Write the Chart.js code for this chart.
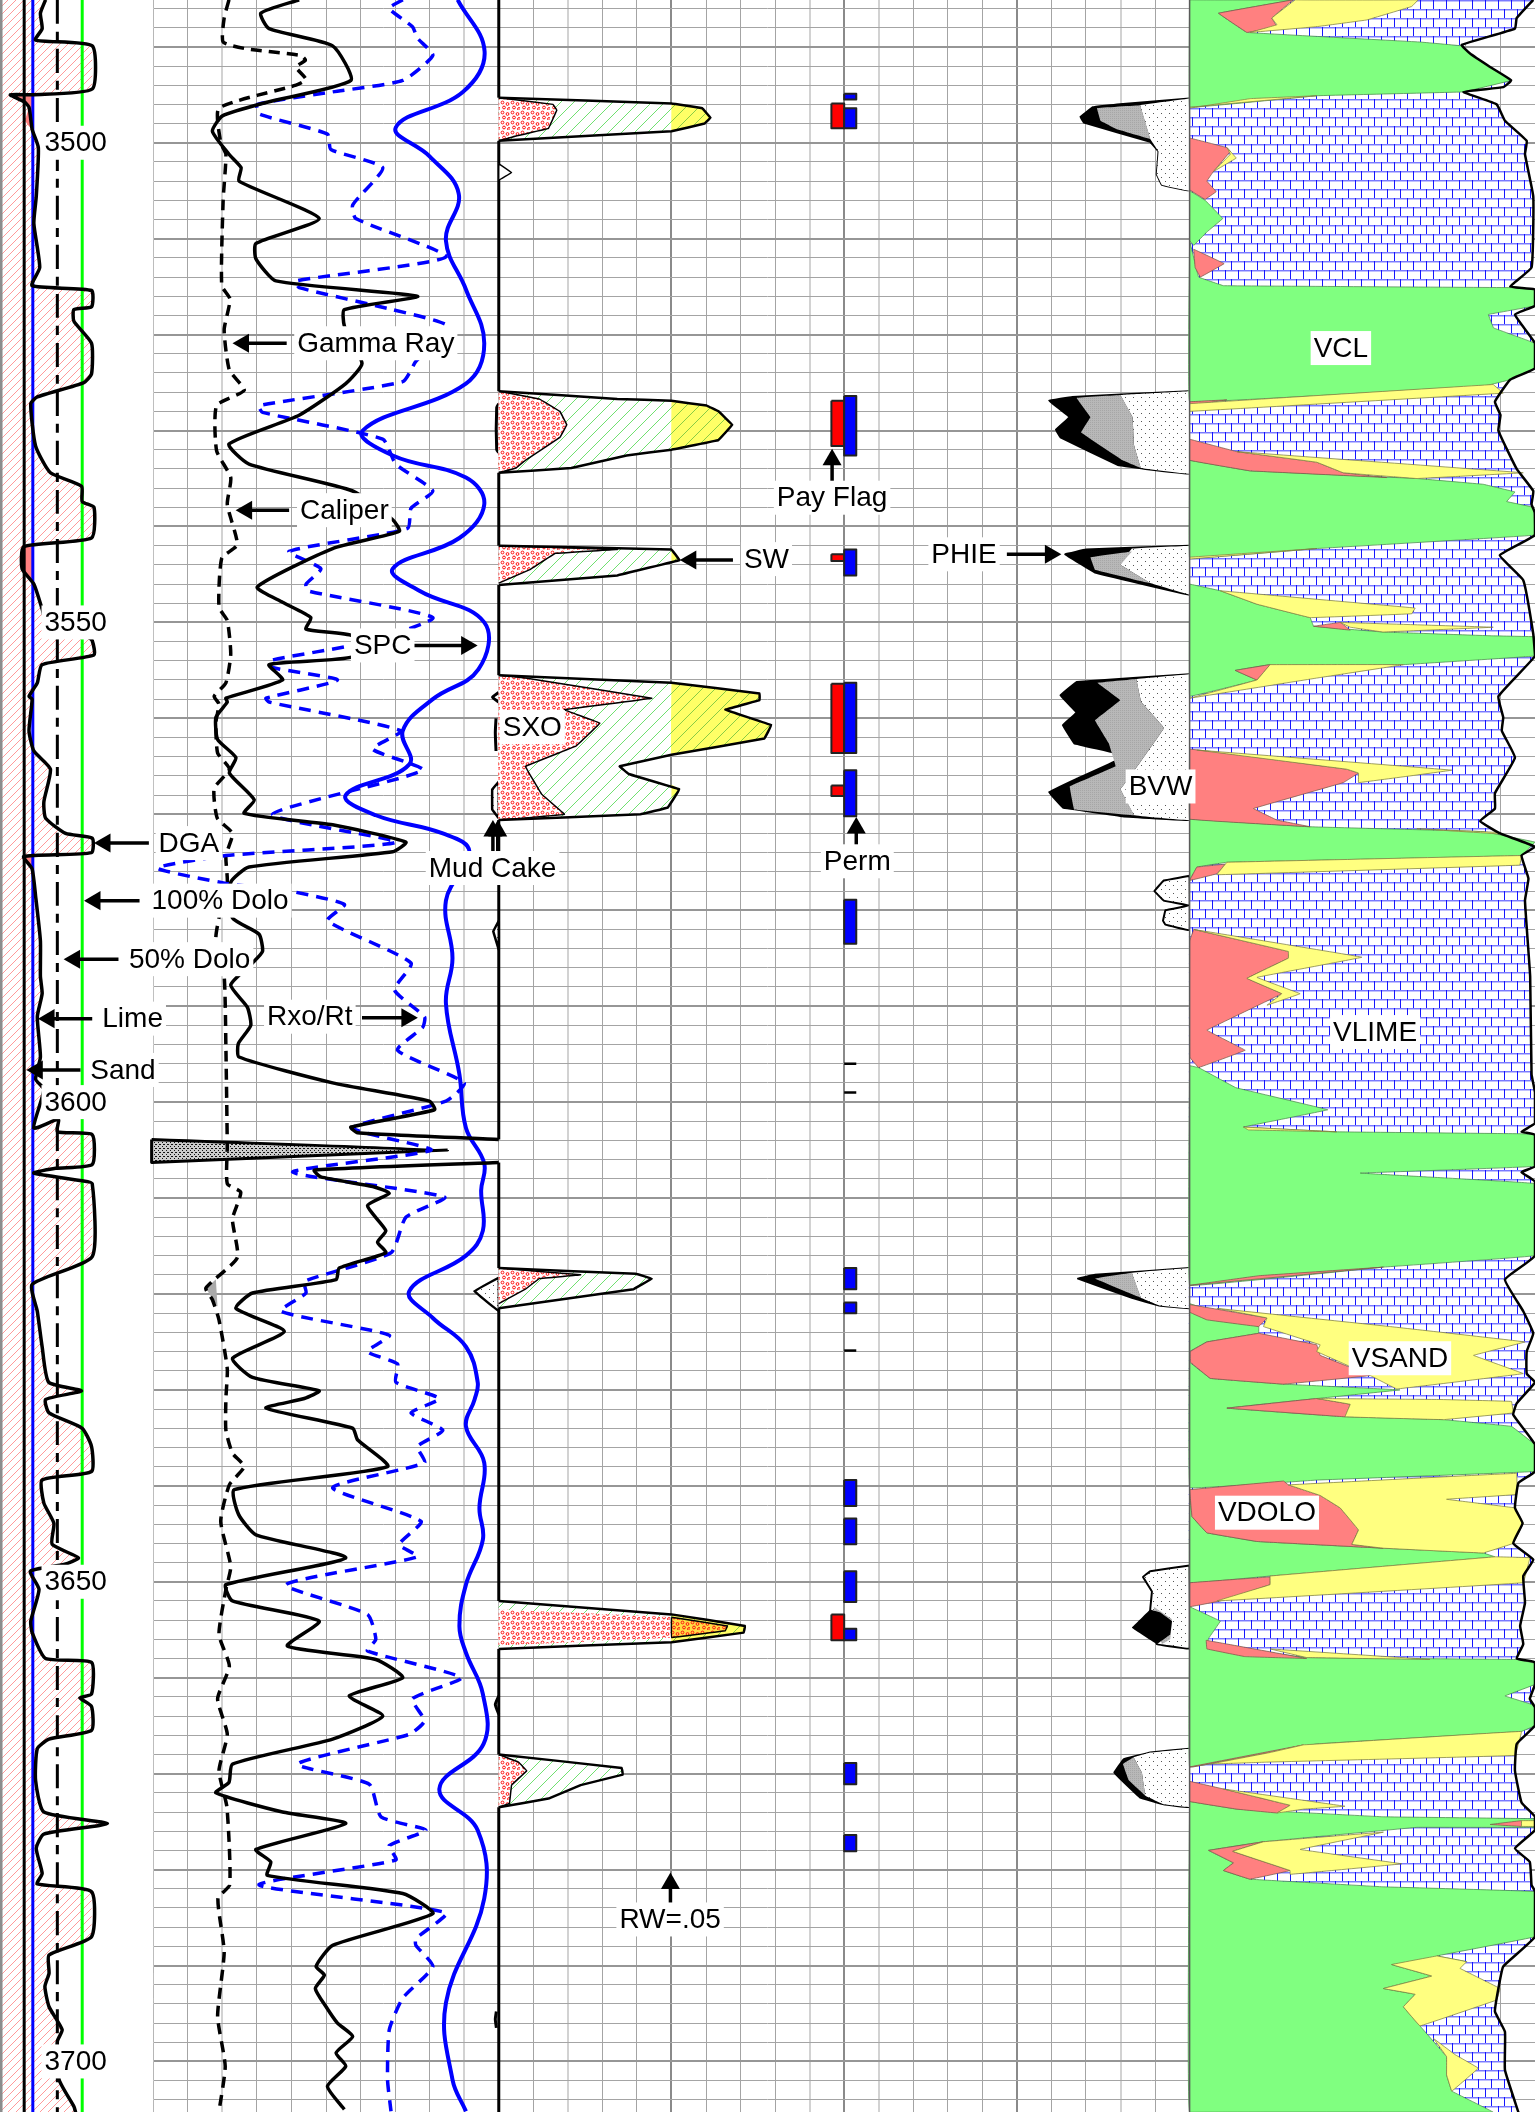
<!DOCTYPE html>
<html>
<head>
<meta charset="utf-8">
<title>Well log</title>
<script src="https://cdn.jsdelivr.net/npm/chart.js@4/dist/chart.umd.js"></script>
<style>
html, body { margin: 0; padding: 0; background: #fff; }
canvas { display: block; }
</style>
</head>
<body>
<canvas id="logChart" width="1535" height="2112"></canvas>
<script>
// all curves are [grid division, depth in feet]
// divisions: track 1 is -4.44..0, track 2 0..10, track 3 10..20, track 4 20..30, track 5 30..40
const depthTop = 3485.12, depthBottom = 3705.27;
const divLeft = -4.44, divRight = 40;
const depthLabels = [3500, 3550, 3600, 3650, 3700];

// --- TRACK 1 ---
const dga = [[-3.12,3485.1],[-3.27,3486.5],[-3.22,3488.1],[-3.41,3489.3],[-1.77,3489.9],[-1.77,3494.4],[-3.46,3495],[-4.14,3495],[-3.75,3495.7],[-3.6,3496.3],[-3.51,3498.6],[-3.33,3500.5],[-3.39,3505.6],[-3.46,3508.4],[-3.29,3513],[-3.51,3514.9],[-1.79,3515.4],[-1.79,3517.1],[-2.3,3517.4],[-2.3,3518.6],[-1.79,3520.9],[-1.79,3524.1],[-2.01,3525],[-3.36,3526.5],[-3.55,3527.2],[-3.41,3531.6],[-2.98,3534.4],[-2.08,3535.8],[-2.06,3537.4],[-1.72,3538],[-1.79,3541.2],[-3.75,3542.1],[-3.8,3544.4],[-3.46,3546],[-3.22,3548.6],[-3.1,3550],[-1.9,3551.5],[-1.77,3551.9],[-1.72,3553.4],[-3.22,3554.4],[-3.36,3556.3],[-3.6,3557.7],[-3.51,3558],[-3.6,3561.3],[-3.46,3563.4],[-2.98,3565.3],[-3.17,3568.7],[-3.12,3570.4],[-2.54,3572],[-1.77,3572.5],[-1.79,3574],[-3.75,3574.4],[-3.51,3575.7],[-3.41,3578.5],[-3.27,3583.2],[-3.27,3586.9],[-3.22,3588.7],[-3.36,3591.1],[-3.27,3595.3],[-3.41,3597.6],[-3.17,3598.7],[-3.46,3602.7],[-2.75,3601.8],[-2.78,3603.1],[-1.77,3603.4],[-1.77,3606.5],[-2.83,3606.9],[-3.46,3607.4],[-2.06,3608.2],[-1.77,3608.5],[-1.77,3616.1],[-3.51,3619],[-3.36,3621.8],[-3.22,3625.5],[-3.03,3629.2],[-2.08,3630.1],[-3.12,3631],[-3.02,3632.4],[-2.06,3634],[-1.79,3635.9],[-1.79,3638.5],[-3.22,3639.4],[-3.17,3641.8],[-2.88,3643.9],[-2.93,3646.1],[-2.17,3647.5],[-2.59,3648.2],[-3.56,3648.9],[-3.31,3650.8],[-3.55,3654.1],[-3.51,3655.3],[-3.12,3658],[-1.79,3658.4],[-1.79,3661.7],[-2.13,3662.1],[-1.79,3663],[-1.79,3665.5],[-3.02,3666.4],[-3.36,3667.4],[-3.41,3670.7],[-3.17,3674],[-1.33,3675.2],[-3.17,3676.3],[-3.39,3677.8],[-3.22,3680.4],[-3.36,3681.5],[-1.79,3682.3],[-1.79,3687],[-3.02,3688.9],[-3.02,3690.8],[-3.14,3692.2],[-3.02,3694.3],[-2.64,3696.7],[-2.78,3697.9],[-2.73,3701.9],[-2.3,3704.7],[-2.25,3705.3]];
const dgaPink1 = [[-4.1,3495],[-3.5,3495],[-3.5,3498.7],[-3.72,3497.7],[-3.6,3496.3]];
const dgaPink2 = [[-3.75,3542.1],[-3.5,3542],[-3.46,3546],[-3.8,3544.4]];
const dgaPink3 = [[-3.75,3574.4],[-3.5,3574.2],[-3.51,3575.6]];
const sandLine = -3.74, limeLine = -3.49, dolo50Line = -2.78, dolo100Line = -2.06;

// --- TRACK 2 ---
const gammaDashed = [[2.19,3485.1],[2.05,3487],[2.02,3489.5],[2.68,3490.2],[4.27,3490.9],[4.4,3491.4],[4.13,3492.1],[4.42,3493.4],[4.13,3494],[1.9,3496.4],[1.95,3500],[2.1,3501.2],[2.02,3506],[1.98,3514.9],[2.22,3516.3],[2.05,3519.5],[2.2,3523.7],[2.63,3525.8],[1.83,3527.4],[1.83,3532.1],[2.24,3534.9],[2.14,3537.7],[2.43,3541.9],[1.98,3543.3],[1.9,3548.4],[2.14,3549.8],[2.24,3553.3],[2.1,3556.3],[1.76,3557.7],[1.9,3558.5],[1.81,3560.4],[1.86,3563.6],[2.2,3565.3],[1.76,3567.3],[1.85,3570.4],[2.29,3572],[2.1,3574.3],[2.14,3577.1],[1.9,3580.8],[1.81,3582.9],[2.05,3586.9],[2.1,3594.3],[2.14,3604.6],[2.14,3608.5],[2.53,3609.4],[2.29,3612.2],[2.43,3616.2],[1.52,3619.4],[1.71,3620.6],[1.9,3622.7],[2.14,3627.8],[2.1,3630.9],[2.1,3634.2],[2.29,3636.6],[2.63,3638],[2.2,3639.9],[1.95,3643.7],[2.24,3648.4],[2.1,3650.8],[1.9,3655.5],[2.2,3658.8],[1.86,3662.2],[2.14,3665.9],[1.9,3669.7],[2.13,3673.5],[2.21,3681.6],[1.87,3683],[2.05,3688.6],[1.86,3695.3],[2.08,3700.5],[1.9,3705.2]];
const gammaUpper = [[4.22,3485.1],[3.11,3486.5],[3.35,3488.1],[5.19,3489.9],[5.72,3493.5],[3.26,3495.8],[2,3497.2],[1.71,3498.8],[2.19,3501.2],[2.54,3502.6],[2.48,3504],[4.8,3507.9],[2.97,3510.5],[2.97,3512.1],[3.55,3514.4],[7.65,3516],[5.53,3517.4],[5.53,3519.1],[6.04,3523],[5.57,3525.1],[4.22,3528.4],[2.19,3531.4],[2.77,3533.5],[5.77,3536.3],[6.93,3539.3],[7.12,3540.5],[5.19,3542.3],[3.01,3546.3],[3.74,3547.9],[4.56,3549.5],[4.42,3550.7],[5.77,3551.4],[5.77,3553.6],[3.35,3554.4],[3.74,3556],[2.1,3557.9],[2.14,3558.3],[1.81,3559.9],[1.86,3562.2],[2.39,3564.1],[2.2,3565.7],[2.92,3568.5],[2.63,3569.9],[5.19,3571.1],[7.31,3572.9],[6.93,3573.9],[2.77,3575.5],[2.24,3577.1],[2.29,3580.8],[3.06,3582.5],[3.16,3584.3],[2.87,3585.5],[2.24,3587.8],[2.72,3590.1],[2.82,3592],[2.46,3593.9],[2.48,3595.3],[5.19,3598],[7.99,3599.9],[8.14,3600.8],[5.72,3602.6],[5.91,3603.2],[10,3603.9]];
const gammaLower = [[10,3606.3],[4.66,3607.1],[4.85,3607.8],[6.35,3608.8],[6.83,3609.5],[6.2,3610.8],[6.73,3613.4],[6.49,3614.6],[6.73,3615.7],[5.38,3617.3],[5.29,3618.5],[2.87,3619.9],[2.39,3621.5],[3.79,3623.9],[2.29,3626.7],[2.87,3628.7],[4.8,3630.1],[4.37,3630.9],[3.26,3631.9],[5.77,3634],[5.91,3635.2],[6.78,3638],[2.34,3640.4],[2.47,3643],[2.97,3645.1],[5.57,3647.5],[2.1,3650.3],[2.29,3652],[4.8,3654.1],[3.88,3656.7],[6.44,3658.1],[7.22,3660],[5.67,3661.9],[6.64,3664],[5.19,3666.4],[2.29,3669],[2.19,3670.9],[1.81,3672],[3.74,3674],[5.57,3675.2],[2.97,3677.9],[3.4,3679.2],[3.3,3680.6],[7.22,3682.5],[8.09,3684.6],[5.19,3687.9],[4.71,3690.1],[4.95,3691],[4.69,3692.4],[5,3694.3],[5.33,3696],[5.77,3697.4],[5.29,3699.1],[5.57,3700.5],[5.04,3702.6],[5.53,3705]];
const rxoRt = [[7.22,3485.1],[6.83,3486],[7.5,3487.9],[7.65,3489.1],[8.09,3490.9],[7.22,3493.5],[5.19,3494.7],[3.01,3496],[3.06,3497],[5.04,3499.1],[5.14,3500.7],[6.64,3502.6],[5.77,3506.5],[5.86,3507.9],[8.47,3511.9],[4.13,3514.4],[4.22,3515.1],[6.93,3517.4],[8.57,3519.2],[7.6,3522.8],[7.22,3524.9],[3.06,3527.4],[3.16,3528.1],[6.64,3530.9],[7.02,3533.5],[8.09,3536.3],[7.46,3538.1],[7.36,3540.2],[3.93,3542.6],[4.85,3544.4],[4.42,3546],[4.46,3546.7],[8.09,3549.5],[6.15,3552.1],[3.35,3554],[3.45,3554.7],[5.33,3556],[3.26,3557.9],[3.35,3558.3],[7.17,3561.3],[6.35,3563.2],[7.8,3565.4],[3.45,3570],[7.02,3572.9],[2.1,3574.3],[0.12,3575.6],[2.1,3577.2],[3.93,3578],[5.53,3579.4],[5.04,3581.1],[7.46,3585.5],[6.98,3588.3],[7.85,3591.1],[7.8,3592.2],[7.07,3594.6],[9,3598],[8.47,3599.9],[5.77,3602.7],[8.04,3605],[4.03,3607.3],[8.43,3609.9],[7.31,3612],[6.88,3615.7],[4.37,3618.7],[4.42,3619.9],[3.69,3621.8],[6.83,3624.3],[6.2,3626],[7.07,3627.3],[7.02,3629.2],[8.28,3630.9],[7.46,3632.4],[8.38,3634.2],[7.65,3635.9],[7.85,3637.6],[5.19,3640.2],[7.75,3643.7],[7.12,3646.1],[7.65,3647.4],[3.84,3650.3],[6.2,3653.4],[6.44,3656],[6.2,3657.2],[8.91,3660],[7.5,3662.2],[7.85,3664.5],[7.41,3665.9],[4.17,3669],[6.25,3671.1],[6.59,3674.5],[7.89,3675.9],[6.83,3677.5],[7.02,3679],[3.06,3681.6],[8.47,3684.5],[7.6,3687.2],[7.6,3687.9],[8.09,3690.1],[7.22,3693.4],[6.83,3696.7],[6.78,3701.9],[6.88,3705.2]];
const spc = [[8.81,3485.1],[9.59,3490.5],[8.96,3494.7],[7.02,3498.4],[7.99,3501.4],[8.84,3505.3],[8.47,3510.2],[9.05,3515.3],[9.58,3520.9],[9.05,3525.1],[6.06,3530],[6.93,3532.6],[9.05,3534.9],[9.58,3537.7],[8.86,3541.2],[6.93,3544.4],[7.7,3546.7],[9.58,3550],[9.41,3554.9],[8.09,3558],[7.22,3561.3],[7.41,3564.8],[5.57,3568],[6.44,3570.1],[8.38,3572],[9.15,3573.9],[8.47,3579],[8.66,3585],[8.47,3589.7],[8.86,3597.1],[9.05,3602.7],[9.58,3606.4],[9.49,3609.2],[9.54,3613.4],[9.05,3616],[7.41,3619.7],[8.09,3622.5],[9.05,3625.5],[9.39,3629.2],[9.3,3631],[9.05,3633.8],[9.58,3637.6],[9.44,3642.3],[9.54,3645.6],[9.05,3650.3],[8.86,3654.6],[9.05,3657.4],[9.54,3661.7],[9.56,3666.9],[8.28,3671.6],[9.39,3675.9],[9.58,3683],[8.47,3693.9],[8.66,3701.9],[9.05,3705.2]];
const washout = [[-0.05,3603.9],[8.52,3605],[-0.05,3606.3]];
const gammaGray = [[1.52,3619.4],[1.81,3618.5],[1.86,3621.3]];

// --- TRACK 3: border, mud cake, saturation zones ---
const borderRuns = [[3485.1,3495.3],[3499.8,3525.9],[3534.4,3542],[3546.1,3555.5],[3570.6,3603.9],[3606.3,3617.3],[3621.5,3652],[3657,3668],[3673.5,3705.3]];
const mudBumps = [[[10,3527.2],[9.94,3527.6],[9.94,3532],[10,3532.3]],[[10,3557.3],[9.82,3557.8],[10,3558.3]],[[9.92,3560],[9.9,3561.5],[9.92,3563.4]],[[10,3661.9],[9.9,3662.8],[10,3663.8]],[[9.93,3694.8],[9.9,3695.6],[9.93,3696.5]]];
const mudStipple1 = [[10,3566.6],[9.81,3567.4],[9.81,3569.5],[10,3570.4]];
const mudStipple2 = [[10,3618.3],[9.29,3619.7],[10,3621.8]];
const mudStipple3 = [[10,3581.1],[9.84,3582.2],[10,3584.1]];
const swBlip = [[10,3502.2],[10.37,3503.1],[10,3503.9]];

const swA = [[10,3495.3],[15,3495.9],[15.89,3496.4],[16.13,3497.4],[15.96,3498],[15,3498.8],[10,3499.8]];
const yelA = [[15,3495.9],[15.89,3496.4],[16.13,3497.4],[15.96,3498],[15,3498.8]];
const sxoA = [[10,3495.3],[11.57,3496],[11.68,3496.6],[11.44,3498.5],[10.5,3499.3],[10,3499.8]];
const swB = [[10,3525.9],[13.43,3526.7],[15,3526.9],[16.02,3527.4],[16.36,3528],[16.76,3529.4],[16.36,3531],[15,3532],[13.7,3532.6],[12.1,3533.9],[10,3534.4]];
const yelB = [[15,3526.9],[16.02,3527.4],[16.36,3528],[16.76,3529.4],[16.36,3531],[15,3532]];
const sxoB = [[10,3525.9],[11.17,3526.7],[11.77,3528],[11.97,3529.4],[11.77,3530.7],[10.77,3533.1],[10.5,3533.9],[10,3534.4]];
const swC = [[10,3542],[15,3542.4],[15.23,3543.5],[13.43,3545.1],[10,3546.1]];
const yelC = [[15,3542.4],[15.23,3543.5],[15,3543.7]];
const sxoC = [[10,3542],[13.43,3542.4],[11.64,3542.8],[10.9,3544.5],[10,3545.9]];
const swD = [[10,3555.5],[15,3556.3],[17.55,3557.4],[17.55,3558.1],[16.56,3559.1],[17.89,3560.7],[17.69,3562.1],[15,3563.8],[13.5,3565],[13.76,3565.8],[15.23,3567.4],[14.89,3569.3],[14.1,3570],[10,3570.6]];
const yelD = [[15,3556.3],[17.55,3557.4],[17.55,3558.1],[16.56,3559.1],[17.89,3560.7],[17.69,3562.1],[15,3563.8]];
const yelD2 = [[15,3566.9],[15.23,3567.4],[15,3568.4]];
const sxoD = [[10,3555.5],[10.77,3555.8],[14.43,3557.9],[11.9,3559.1],[12.93,3560.5],[12.23,3562.9],[10.77,3565],[11.24,3567.9],[11.9,3570],[10,3570.6]];
const swE = [[10,3617.3],[13.96,3617.9],[14.43,3618.4],[13.9,3619.5],[10,3621.5]];
const sxoE = [[10,3617.3],[12.37,3618],[11.17,3618.4],[10.77,3619.5],[10,3621]];
const swF = [[10,3652],[15,3653.4],[17.13,3654.6],[17.09,3655.3],[15,3656.3],[10,3657]];
const yelF = [[15,3653.4],[17.13,3654.6],[17.09,3655.3],[15,3656.3]];
const sxoF = [[10,3652.9],[15,3653.7],[15,3655.8],[10,3656.6]];
const payF = [[15,3653.7],[16.62,3654.6],[16.56,3655.1],[15,3655.8]];
const swG = [[10,3668],[13.56,3669.4],[13.59,3670.1],[12.37,3671.2],[11.44,3672.6],[10,3673.5]];
const sxoG = [[10,3668],[10.57,3668.8],[10.81,3669.7],[10.37,3671.2],[10.31,3673.1],[10,3673.5]];

// --- TRACK 4: pay flag and perm bars [top, bottom] ---
const permEdge = 20.35, flagEdge = 19.63, barBase = 20;
const permBars = [[3494.9,3495.5],[3496.4,3498.5],[3526.4,3532.6],[3542.4,3545.1],[3556.3,3563.6],[3565.4,3570.2],[3578.9,3583.5],[3617.3,3619.5],[3620.9,3622],[3639.4,3642.1],[3643.4,3646.1],[3648.9,3652.1],[3654.9,3656.1],[3668.9,3671.1],[3676.4,3678.1]];
const permTicks = [3596, 3599, 3625.9];
const flagBars = [[3495.9,3498.5],[3526.9,3531.6],[3542.9,3543.6],[3556.4,3563.6],[3567,3568.1],[3653.4,3656.1]];

// --- TRACK 4: porosity lobes (outer PHIE, gray BVW, dotted rest) ---
const phieA = [[30,3495.4],[27.9,3496],[27.2,3496.3],[26.84,3497.3],[26.94,3497.9],[28.86,3499.9],[29.1,3500.9],[29.05,3503.3],[29.2,3504.4],[30,3505]];
const grayA = [[28.57,3496.1],[27.32,3496.4],[27.42,3497.7],[27.9,3498.6],[28.86,3499.6]];
const dotA = [[30,3495.4],[28.57,3496.1],[28.86,3499.6],[29.1,3500.9],[29.05,3503.3],[29.2,3504.4],[30,3505]];
const phieB = [[30,3525.9],[26.6,3526.5],[25.93,3526.9],[26.33,3528],[26.53,3528.6],[26.13,3529.9],[26.26,3530.7],[27.93,3533.6],[28.72,3534],[30,3534.5]];
const grayB = [[28,3526.3],[26.73,3526.6],[27.13,3528.6],[26.86,3530.2],[28.06,3533.1],[28.59,3533.9],[28.39,3531.5],[28.35,3528.6]];
const dotB = [[30,3525.9],[28,3526.3],[28.35,3528.6],[28.39,3531.5],[28.59,3533.9],[30,3534.5]];
const phieC = [[30,3542],[27,3542.4],[26.4,3542.9],[27.26,3544.8],[30,3547.1]];
const grayC = [[28.33,3542.6],[27.13,3543.2],[27.26,3544.5],[28.6,3545.7],[28.86,3545.9],[28,3544]];
const dotC = [[30,3542],[28.33,3542.3],[28,3544],[28.86,3545.9],[30,3547.1]];
const phieD = [[30,3555.4],[26.73,3556.2],[26.26,3557.6],[26.73,3559.4],[26.33,3560.7],[26.66,3562.6],[28.19,3563.9],[26.73,3566.3],[25.93,3567.7],[26.33,3569.3],[28.06,3570.2],[30,3570.6]];
const grayD = [[28.46,3555.9],[27.33,3556.3],[27.99,3558.1],[27.26,3560.2],[27.66,3562.6],[27.86,3565],[26.53,3567.1],[26.66,3569.5],[28.39,3570.1],[28,3567.4],[28.33,3565.8],[29.26,3561],[28.6,3558.3]];
const dotD = [[30,3555.4],[28.46,3555.9],[28.6,3558.3],[29.26,3561],[28.33,3565.8],[28,3567.4],[28.39,3570.1],[30,3570.6]];
const dotE = [[30,3576.4],[29.25,3576.9],[28.98,3578],[29.25,3579],[30,3579.5],[29.3,3580],[29.23,3581.1],[29.3,3581.5],[30,3582.1]];
const phieF = [[30,3617.3],[27.26,3618],[26.77,3618.4],[28.33,3620.4],[29.12,3621.2],[30,3621.5]];
const grayF = [[28.33,3617.8],[27.26,3618.4],[28.59,3620.4]];
const dotF = [[30,3617.3],[28.33,3617.8],[28.59,3620.4],[29.12,3621.2],[30,3621.5]];
const dotG = [[30,3648.3],[28.86,3648.9],[28.65,3649.5],[28.91,3651],[28.86,3652.9],[29.05,3656.5],[30,3657]];
const grayG = [[28.96,3652.6],[29.49,3653.9],[29.44,3656],[29.2,3656.5]];
const blackG = [[28.86,3652.9],[28.33,3654.8],[29.05,3656.5],[29.44,3655.5],[29.49,3654.1],[29.15,3653.2]];
const phieH = [[30,3667.4],[28.86,3667.8],[28.09,3668.5],[27.82,3669.9],[28.04,3670.7],[28.57,3672.5],[29.25,3673.2],[30,3673.5]];
const grayH = [[28.38,3668.3],[28.07,3669],[28.24,3670.7],[28.72,3672.3],[28.62,3669.9]];
const dotH = [[30,3667.4],[28.86,3667.8],[28.38,3668.3],[28.62,3669.9],[28.72,3672.3],[29.25,3673.2],[30,3673.5]];

// --- TRACK 5: lithology ---
const lithEdge = [[39.95,3485.1],[39.47,3487],[39.42,3488.1],[37.88,3489.8],[38.12,3490.7],[38.7,3492.1],[39.31,3493.5],[39.08,3494.2],[37.93,3494.7],[38.89,3496],[39.13,3497.7],[39.76,3499.8],[39.71,3501.2],[39.95,3505.6],[39.9,3513],[39.28,3515],[40,3515.3],[40,3517],[39.42,3517.9],[40,3520.9],[40,3523.5],[39.28,3524.7],[38.84,3527],[39,3528.4],[38.94,3530],[39.47,3534],[39.95,3536.3],[39.9,3537.7],[40,3538.6],[40,3540.9],[38.98,3543],[39.66,3545.6],[39.95,3551.2],[40,3553.5],[38.94,3557.7],[39.08,3559.9],[39.04,3561.3],[39.42,3564.1],[38.84,3567.8],[38.84,3569.4],[38.41,3570.7],[38.99,3572],[40,3573.4],[39.61,3574.3],[39.81,3576.7],[39.71,3579],[39.86,3586.9],[39.9,3597.1],[40,3599],[40,3602.2],[39.61,3603.1],[40,3603.4],[40,3606.7],[39.61,3607.3],[40,3608.3],[40,3616],[39.13,3618.5],[39.66,3621.8],[39.95,3624.1],[39.76,3626],[39.76,3628.3],[40,3629.2],[39.47,3631.4],[39.37,3632.6],[40,3635.7],[40,3638.5],[39.52,3639.7],[39.42,3642.3],[39.64,3643.9],[39.37,3646],[39.95,3647.7],[39.66,3649.4],[39.71,3652.2],[39.57,3654.6],[39.66,3656.5],[39.47,3658],[40,3658.4],[40,3660.7],[39.85,3662.2],[40,3663.1],[40,3665],[39.47,3666.9],[39.42,3669.7],[39.61,3673],[40,3674.5],[40,3675.9],[39.42,3677.8],[39.85,3679.2],[39.9,3681.6],[40,3682.3],[40,3687],[39.08,3690.1],[38.94,3692.4],[38.84,3694.8],[39.13,3696.9],[39.13,3700.9],[39.52,3705.3]];

const vclZones = [
  [[30,3485.1],[33,3485.1],[30.84,3486.5],[31.66,3488.5],[36.67,3489.5],[37.88,3489.9],[38.12,3490.7],[38.7,3492.1],[39.31,3493.5],[37.93,3494.7],[33.68,3495.1],[30,3496.3]],
  [[30,3505],[30.45,3506],[30.96,3507.9],[30.5,3509.3],[30.12,3510.7],[30,3510.2]],
  [[30,3510.2],[30.26,3514],[30.98,3514.9],[39.28,3515.1],[40,3515.3],[40,3517],[38.65,3517.9],[38.8,3519.3],[40,3520.9],[40,3523.5],[39.28,3524.7],[38.6,3525.3],[30,3527]],
  [[30,3533.1],[31.75,3534.2],[36.58,3535],[38.5,3535.6],[39.42,3536.4],[39.18,3537.4],[39.95,3538],[40,3540.9],[33.68,3542.3],[30,3543.3]],
  [[30,3546],[30.89,3546.7],[31.95,3548.1],[33.49,3549.5],[33.59,3550.4],[35.6,3551],[38.79,3551.4],[40,3551.5],[40,3553.5],[36.19,3554.4],[32.33,3554.4],[31.32,3555],[31.95,3556],[30,3557.7]],
  [[30,3570.5],[33.49,3571.3],[38.5,3571.8],[40,3572.9],[39.61,3574.3],[31.08,3575],[30.21,3575.5],[30,3576.9]],
  [[30,3596.2],[30.26,3596.4],[31.34,3598.5],[34,3600.8],[31.56,3602.6],[34.26,3603.1],[39.61,3603.3],[40,3603.4],[40,3606.7],[34.94,3607.4],[36.87,3607.8],[40,3608.5],[40,3616],[35.61,3617.2],[30,3619.1]],
  [[30,3621],[32,3623.4],[32,3624.1],[30.5,3625],[30,3626],[30,3627.1],[30.6,3628.8],[32.72,3629.4],[36.09,3630],[33.68,3630.9],[31.08,3631.9],[34.5,3632.8],[37.35,3633.1],[39.32,3633.8],[40,3635.7],[40,3638.5],[33.68,3639.4],[30,3640.2]],
  [[30,3640.4],[30.07,3643.2],[30.5,3644.9],[31.95,3645.8],[35.61,3646.5],[38.5,3647],[38.84,3647.4],[32.33,3649.4],[30,3650.1]],
  [[30,3652.6],[30.89,3654.1],[30.55,3655.9],[30.5,3656.5],[33.39,3657.9],[39.47,3658.1],[40,3658.5],[40,3660.7],[39.13,3661.9],[40,3662.9],[40,3665],[39.61,3665.6],[33.68,3666.9],[30,3669.3]],
  [[30,3672.9],[31.37,3673.7],[35.61,3674.5],[40,3674.7],[40,3675.6],[36.58,3675.6],[32.14,3677.1],[30.55,3678],[31.27,3679.3],[30.98,3680.1],[31.75,3681],[35.61,3681.8],[40,3682.3],[40,3687],[37.16,3689],[38.02,3689.6],[35.85,3689.9],[37.01,3691.1],[35.61,3692.4],[36.53,3693],[36.19,3694.3],[36.67,3696.3],[37.44,3699.5],[37.44,3701.4],[37.59,3703.1],[38.79,3705.3],[30,3705.3]]
];
const vdoloZones = [
  [[33,3485.1],[30.84,3486.5],[31.66,3488.5],[32.53,3487.9],[32.38,3487]],
  [[30,3499.5],[31.08,3500.5],[31.18,3500.9],[30.69,3503],[30.5,3504],[30.77,3505.1],[30.45,3505.9],[30,3504.9]],
  [[30.12,3511.1],[31,3512.6],[30.31,3514],[30.16,3513]],
  [[30,3527],[31.08,3526.8],[30,3527.4]],
  [[30,3530.9],[31.37,3532.2],[33.68,3533.3],[34.45,3534.4],[35.71,3534.9],[31.75,3534.2],[30,3533.1]],
  [[33.59,3550.4],[34.36,3550],[34.65,3550.8]],
  [[31.32,3555],[32.33,3554.4],[31.95,3556]],
  [[30,3563.2],[30.98,3563.6],[34.55,3565.3],[34.89,3565.7],[34.45,3566.7],[31.85,3569.4],[32.53,3570.6],[33.49,3571.3],[30,3570.5]],
  [[30.21,3575.5],[31.03,3575.2],[30.79,3576.2],[30,3576.9]],
  [[30.12,3582],[32.86,3584.3],[32.86,3585],[31.66,3587.1],[32.67,3588.7],[30.5,3592.5],[31.61,3594.6],[30.26,3596.4],[30,3595.3],[30,3583.2]],
  [[35.61,3617.2],[30,3619.1],[32,3618.1]],
  [[30,3621.1],[32.24,3622.5],[32,3623.4],[30.5,3622.7],[30,3621.9]],
  [[32,3624.1],[33.68,3625.3],[33.78,3626.4],[35.23,3628.5],[32.72,3629.4],[30.6,3628.8],[30.02,3627.1],[30.02,3626],[30.5,3625]],
  [[31.08,3631.9],[33.68,3630.9],[34.65,3631.5],[34.5,3632.8]],
  [[30,3640.4],[32.72,3639.5],[32.86,3639.9],[33.78,3641],[34.36,3642.3],[34.89,3644.6],[34.7,3646.1],[35.61,3646.5],[31.95,3645.8],[30.5,3644.9],[30.07,3643.2]],
  [[30,3650.1],[32.33,3649.5],[32.33,3650.3],[30.89,3652],[30,3652.6]],
  [[30.48,3656.1],[33.39,3658],[31.6,3657.8],[30.5,3657]],
  [[30,3669.3],[33.3,3667],[32.33,3667.8],[30.1,3669.3]],
  [[30,3670.8],[30.98,3671.6],[32.91,3673.3],[32.53,3674.1],[31.37,3673.7],[30,3672.9]],
  [[30.55,3678],[32.14,3677.1],[31.25,3678.1],[32.91,3680.1],[31.75,3681],[30.98,3680.1],[31.27,3679.3]],
  [[38.7,3675.3],[39.61,3674.9],[39.61,3675.5]]
];
const vsandZones = [
  [[36.62,3485.1],[33.06,3485.1],[32.38,3487],[32.53,3487.7],[31.75,3488.5],[33.68,3487.9],[35.13,3487.2],[36.43,3485.8]],
  [[33.68,3495.1],[30,3496.3],[30,3496.4],[31.76,3495.4]],
  [[31.08,3500.5],[31.35,3501.6],[30.69,3503],[31.18,3501.2]],
  [[38.79,3525.2],[30,3527.2],[30,3528],[39.08,3526.1]],
  [[31.37,3532.2],[39.66,3534.4],[36.58,3535],[34.45,3534.4],[33.68,3533.3]],
  [[33.68,3542.3],[30,3543.2],[30,3543.4]],
  [[30.89,3546.7],[36.53,3548.5],[36.43,3549.1],[33.49,3549.5],[31.95,3548.1]],
  [[34.36,3550],[38.79,3550.5],[35.6,3551],[34.65,3550.5]],
  [[32.33,3554.4],[36.19,3554.4],[33.68,3555.8],[30,3557.9],[31.95,3556]],
  [[30.21,3563.3],[37.59,3565.4],[34.89,3566.7],[34.89,3565.7],[34.55,3565.3]],
  [[36.58,3571.5],[38.99,3571.9],[38.99,3572.05]],
  [[31.08,3575],[39.61,3574.3],[39.56,3575.3],[30.79,3576.3]],
  [[30.12,3582],[34.99,3584.9],[31.95,3587],[33.2,3588.7],[32.24,3589.9],[32.67,3588.7],[31.66,3587.1],[32.86,3585],[32.86,3584.3]],
  [[31.56,3602.6],[34.26,3603.1],[31.7,3602.9]],
  [[30.79,3621.5],[35.81,3623.4],[39.71,3625],[38.22,3626.4],[39.66,3628.3],[36,3629.9],[35.23,3628.5],[33.68,3626],[33.78,3625.3],[32.14,3623.4],[32.24,3622.5]],
  [[33.68,3630.9],[37.25,3631],[39.32,3631.2],[39.37,3632.4],[37.35,3633.1],[34.5,3632.8],[34.65,3631.5]],
  [[32.86,3639.9],[39.47,3638.7],[39.47,3640.9],[37.44,3641.4],[39.42,3642.3],[39.66,3643.9],[39.37,3646],[38.5,3647],[35.61,3646.5],[34.7,3646.1],[34.89,3644.6],[34.36,3642.3],[33.78,3641]],
  [[32.33,3649.4],[38.84,3647.4],[39.85,3647.5],[39.66,3650.1],[30.79,3652],[32.33,3650.3]],
  [[32.33,3657],[36.96,3658.1],[33.39,3657.9]],
  [[33.3,3667],[39.61,3665.6],[39.42,3668.1],[32.24,3668.8],[30.6,3669],[32.33,3667.8]],
  [[30.98,3671.6],[34.5,3673.4],[33.3,3673.7],[32.53,3674.1],[32.91,3673.3]],
  [[39.61,3674.9],[40,3674.9],[40,3675.5],[39.61,3675.5]],
  [[32.14,3677.1],[35.61,3676.1],[33.2,3677.9],[36.14,3679.4],[32.91,3680.5],[32.91,3680.1],[31.25,3678.1]],
  [[37.16,3689],[38.02,3689.6],[37.83,3690.3],[38.99,3692.4],[38.89,3693.6],[36.67,3696.3],[36.19,3694.3],[36.53,3693],[35.61,3692.4],[37.01,3691.1],[35.85,3689.9]],
  [[37.06,3697.6],[37.69,3699.3],[38.36,3700.7],[37.59,3703.1],[37.44,3701.4],[37.44,3699.5]]
];

// --- LABELS AND ARROWS ---
const labelTexts = ['Gamma Ray','Caliper','SPC','DGA','100% Dolo','50% Dolo','Lime','Sand','Rxo/Rt','Mud Cake','Pay Flag','SW','PHIE','SXO','BVW','Perm','RW=.05','VCL','VLIME','VSAND','VDOLO'];
const labelDivs = [6.44,5.53,6.64,1.03,1.93,1.05,-0.6,-0.88,4.53,9.82,19.65,17.75,23.47,10.97,29.16,20.38,14.96,34.38,35.37,36.09,32.24];
const labelDepths = [3520.9,3538.3,3552.4,3573,3579,3585.1,3591.3,3596.65,3591.1,3575.6,3537,3543.4,3542.9,3560.9,3567.1,3574.9,3685.2,3521.4,3592.7,3626.7,3642.8];
const depthLabelDiv = -2.25;
// tail div, tail depth, tip div, tip depth
const arrows = [[3.86,3520.9,2.32,3520.9],[3.93,3538.3,2.41,3538.3],[7.5,3552.4,9.36,3552.4],[-0.13,3573,-1.69,3573],[-0.4,3579,-1.98,3579],[-1.01,3585.1,-2.57,3585.1],[-1.77,3591.3,-3.31,3591.3],[-2.11,3596.65,-3.65,3596.65],[6.04,3591.2,7.63,3591.2],[9.83,3574.1,9.83,3570.7],[9.97,3574.1,9.97,3570.7],[19.65,3535.4,19.65,3532],[16.78,3543.5,15.27,3543.5],[24.71,3542.9,26.26,3542.9],[20.35,3573.5,20.35,3570.4],[14.97,3683.6,14.97,3680.4]];

// --- GRID ---
const depthGrid = [];
for (let d = 3486; d <= 3704; d += 2) depthGrid.push(d);
const divGrid = [];
for (let v = 0; v <= 40; v++) divGrid.push(v);
const divDark = [0, 15, 20, 25];
const divLight = [2, 9, 12, 19, 21, 28];

// --- PATTERNS ---
function tile(w, h, draw) {
    const c = document.createElement('canvas');
    c.width = w; c.height = h;
    const t = c.getContext('2d');
    draw(t, w, h);
    return t.createPattern(c, 'repeat');
}
function diagonals(t, s, bg, color, lw) {
    t.fillStyle = bg; t.fillRect(0, 0, s, s);
    t.strokeStyle = color; t.lineWidth = lw;
    t.beginPath();
    t.moveTo(-2, 2); t.lineTo(2, -2);
    t.moveTo(0, s); t.lineTo(s, 0);
    t.moveTo(s - 2, s + 2); t.lineTo(s + 2, s - 2);
    t.stroke();
}
const hatchRed = tile(8, 8, (t, s) => diagonals(t, s, '#fff', '#ff9a9a', 1));
const hatchGreen = tile(13, 13, (t, s) => diagonals(t, s, '#fff', '#70e070', 1));
const hatchYellow = tile(13, 13, (t, s) => diagonals(t, s, '#ffff66', '#88cc44', 1));
function rings(t, bg) {
    t.fillStyle = bg; t.fillRect(0, 0, 10, 10);
    t.strokeStyle = '#ff1010'; t.lineWidth = 1;
    [[2.5,2.5],[7.5,4],[4,7.5],[9,9]].forEach(p => { t.beginPath(); t.arc(p[0], p[1], 1.4, 0, 7); t.stroke(); });
}
const redDots = tile(10, 10, t => rings(t, '#fff'));
const redOnYellow = tile(10, 10, t => rings(t, '#ffdd44'));
const dotted = tile(8, 8, t => {
    t.fillStyle = '#fff'; t.fillRect(0, 0, 8, 8);
    t.fillStyle = '#555'; t.fillRect(1, 1, 1, 1); t.fillRect(5, 5, 1, 1);
});
const speckle = tile(4, 4, t => {
    t.fillStyle = '#ccc'; t.fillRect(0, 0, 4, 4);
    t.fillStyle = '#111'; t.fillRect(0, 0, 1, 1); t.fillRect(2, 2, 1, 1); t.fillRect(3, 0, 1, 1);
});
const grayFine = tile(2, 2, t => {
    t.fillStyle = '#b8b8b8'; t.fillRect(0, 0, 2, 2);
    t.fillStyle = '#a6a6a6'; t.fillRect(0, 0, 1, 1);
});
const brick = tile(26, 18, (t, w, h) => {
    t.fillStyle = '#fff'; t.fillRect(0, 0, w, h);
    t.fillStyle = '#c0c0ff'; t.fillRect(0, 0, w, 2); t.fillRect(0, 9, w, 2);
    t.fillStyle = '#7a7aff'; t.fillRect(0, 0, w, 1); t.fillRect(0, 9, w, 1);
    t.fillStyle = '#1515ff';
    t.fillRect(3, 0, 1, 9); t.fillRect(16, 0, 1, 9);
    t.fillRect(9, 9, 1, 9); t.fillRect(22, 9, 1, 9);
});

// --- DATASETS (painted in the order they are pushed) ---
const layers = [];
const toPoints = pts => pts.map(p => ({ x: p[0], y: p[1] }));
function curve(pts, color, width, extra) {
    layers.push(Object.assign({
        data: toPoints(pts), showLine: true, fill: false, borderColor: color, borderWidth: width,
        pointRadius: 0, tension: 0.18, borderJoinStyle: 'round', borderCapStyle: 'butt'
    }, extra || {}));
}
// shapes stay nearly straight so the closing edge does not bulge out of its track
function shape(pts, paint, edge, width, bend) {
    layers.push({
        data: toPoints(pts.concat([pts[0]])), showLine: true, fill: 'shape', backgroundColor: paint,
        borderColor: edge || paint, borderWidth: width === undefined ? 0 : width,
        pointRadius: 0, tension: bend === undefined ? 0.02 : bend, borderJoinStyle: 'round'
    });
}
const sides = v => [[v, depthTop], [v, depthBottom]];
const straight = { tension: 0.01 };
const lightBend = { tension: 0.02 };

// track 1
shape([[divLeft, depthTop], [0, depthTop], [0, depthBottom], [divLeft, depthBottom]], '#fff', null, 0, 0.001);
shape([[divLeft, depthTop]].concat(dga, [[divLeft, depthBottom]]), hatchRed, null, 0, 0.001);
[dgaPink1, dgaPink2, dgaPink3].forEach(p => shape(p, '#ff8080'));
curve(sides(divLeft + 0.03), '#8c8c8c', 3, straight);
curve(sides(sandLine), '#000', 3, straight);
curve(sides(limeLine), '#0000ff', 3, straight);
curve(sides(dolo50Line), '#000', 3, { borderDash: [24, 8, 9, 8], tension: 0.01 });
curve(sides(dolo100Line), '#00ff00', 3, straight);
curve(dga, '#000', 3.5);

// track 2
shape(washout, speckle, '#000', 3, 0.001);
shape(gammaGray, '#aaaaaa', null, 0, 0.001);
curve(gammaDashed, '#000', 3.5, { borderDash: [11, 7] });
curve(spc, '#0000ff', 4, { tension: 0.4 });
curve(rxoRt, '#0000ff', 3.5, { borderDash: [12, 8] });
curve(gammaUpper, '#000', 3.5);
curve(gammaLower, '#000', 3.5);

// track 3
borderRuns.forEach(r => curve([[10, r[0]], [10, r[1]]], '#000', 3, straight));
mudBumps.forEach(b => curve(b, '#000', 3));
[mudStipple1, mudStipple2, mudStipple3].forEach(p => shape(p, dotted, '#000', 2.5));
shape(swBlip, '#fff', '#000', 1.5);
[swA, swB, swC, swD, swE, swF, swG].forEach(p => shape(p, hatchGreen));
[yelA, yelB, yelC, yelD, yelD2, yelF].forEach(p => shape(p, hatchYellow));
[sxoA, sxoB, sxoC, sxoD, sxoE, sxoF, sxoG].forEach(p => shape(p, redDots));
shape(payF, redOnYellow, '#000', 1.5);
[swA, swB, swC, swD, swE, swF, swG].forEach(p => curve(p, '#000', 2.5, lightBend));
[sxoA, sxoB, sxoC, sxoD, sxoE, sxoG].forEach(p => curve(p, '#000', 1.5, lightBend));

// pay flag and perm
flagBars.forEach(b => shape([[flagEdge, b[0]], [barBase, b[0]], [barBase, b[1]], [flagEdge, b[1]]], '#ff0000', '#222', 2, 0.001));
permBars.forEach(b => shape([[barBase, b[0]], [permEdge, b[0]], [permEdge, b[1]], [barBase, b[1]]], '#0000ff', '#222', 2, 0.001));
permTicks.forEach(d => curve([[barBase, d], [permEdge, d]], '#000', 2.5, straight));

// porosity
[phieA, phieB, phieC, phieD, phieF, phieH].forEach(p => shape(p, '#000', '#000', 2));
[dotA, dotB, dotC, dotD, dotF, dotH].forEach(p => shape(p, dotted));
shape(dotE, dotted, '#000', 2);
shape(dotG, dotted, '#000', 2);
[grayG, blackG].forEach((p, i) => shape(p, i ? '#000' : grayFine));
[grayA, grayB, grayC, grayD, grayF, grayH].forEach(p => shape(p, grayFine));

// lithology
shape([[30, depthTop]].concat(lithEdge, [[30, depthBottom]]), brick, null, 0, 0.001);
vclZones.forEach(p => shape(p, '#80ff80', '#4c8a4c', 0.75));
vdoloZones.forEach(p => shape(p, '#ff8080', '#7a5a4a', 0.75));
vsandZones.forEach(p => shape(p, '#ffff80', '#7f7f40', 0.75));
curve(lithEdge, '#000', 2.5, { tension: 0.1 });
curve(sides(30), '#5a5a5a', 1.5, straight);

// arrows: the triangle sits just behind the tip
arrows.forEach(a => {
    const horizontal = a[1] === a[3];
    const sign = horizontal ? Math.sign(a[2] - a[0]) : Math.sign(a[3] - a[1]);
    const head = horizontal ? [a[2] - sign * 0.29, a[3]] : [a[2], a[3] - sign * 1.04];
    const rotation = horizontal ? (sign > 0 ? 90 : 270) : (sign > 0 ? 180 : 0);
    layers.push({
        data: toPoints([[a[0], a[1]], head]), showLine: true, fill: false, borderColor: '#000', borderWidth: 3.5,
        tension: 0.01, pointStyle: 'triangle', pointRotation: rotation, pointRadius: [0, 11],
        pointBackgroundColor: '#000', pointBorderColor: '#000', pointBorderWidth: 0
    });
});
layers.forEach((l, i) => { l.order = layers.length - i; });

// --- TEXT ---
const textPlugin = {
    id: 'logText',
    afterDatasetsDraw(chart) {
        const ctx = chart.ctx, xs = chart.scales.x, ys = chart.scales.y;
        ctx.save();
        ctx.font = '28px "Liberation Sans", Arial, sans-serif';
        ctx.textAlign = 'center';
        ctx.textBaseline = 'middle';
        const put = (text, div, depth) => {
            const px = xs.getPixelForValue(div), py = ys.getPixelForValue(depth);
            const w = ctx.measureText(text).width + 6;
            ctx.fillStyle = '#fff';
            ctx.fillRect(px - w / 2, py - 17, w, 34);
            ctx.fillStyle = '#000';
            ctx.fillText(text, px, py + 1);
        };
        labelTexts.forEach((t, i) => put(t, labelDivs[i], labelDepths[i]));
        depthLabels.forEach(d => put(String(d), depthLabelDiv, d));
        ctx.restore();
    }
};

new Chart(document.getElementById('logChart'), {
    type: 'scatter',
    data: { datasets: layers },
    plugins: [textPlugin],
    options: {
        responsive: false,
        animation: false,
        events: [],
        layout: { padding: 0, autoPadding: false },
        plugins: { legend: { display: false }, tooltip: { enabled: false } },
        scales: {
            x: {
                type: 'linear', min: divLeft, max: divRight,
                afterBuildTicks: s => { s.ticks = divGrid.map(v => ({ value: v })); },
                ticks: { display: false, autoSkip: false },
                border: { display: false },
                grid: {
                    drawTicks: false,
                    color: c => divDark.includes(c.tick.value) ? '#8a8a8a' : divLight.includes(c.tick.value) ? '#d2d2d2' : '#a4a4a4',
                    lineWidth: c => (divDark.includes(c.tick.value) || divLight.includes(c.tick.value)) ? 2 : 1
                }
            },
            y: {
                type: 'linear', reverse: true, min: depthTop, max: depthBottom,
                afterBuildTicks: s => { s.ticks = depthGrid.map(v => ({ value: v })); },
                ticks: { display: false, autoSkip: false },
                border: { display: false },
                grid: {
                    drawTicks: false,
                    color: c => c.tick.value % 10 === 0 ? '#969696' : '#a4a4a4',
                    lineWidth: c => c.tick.value % 10 === 0 ? 2 : 1
                }
            }
        }
    }
});
</script>
</body>
</html>
